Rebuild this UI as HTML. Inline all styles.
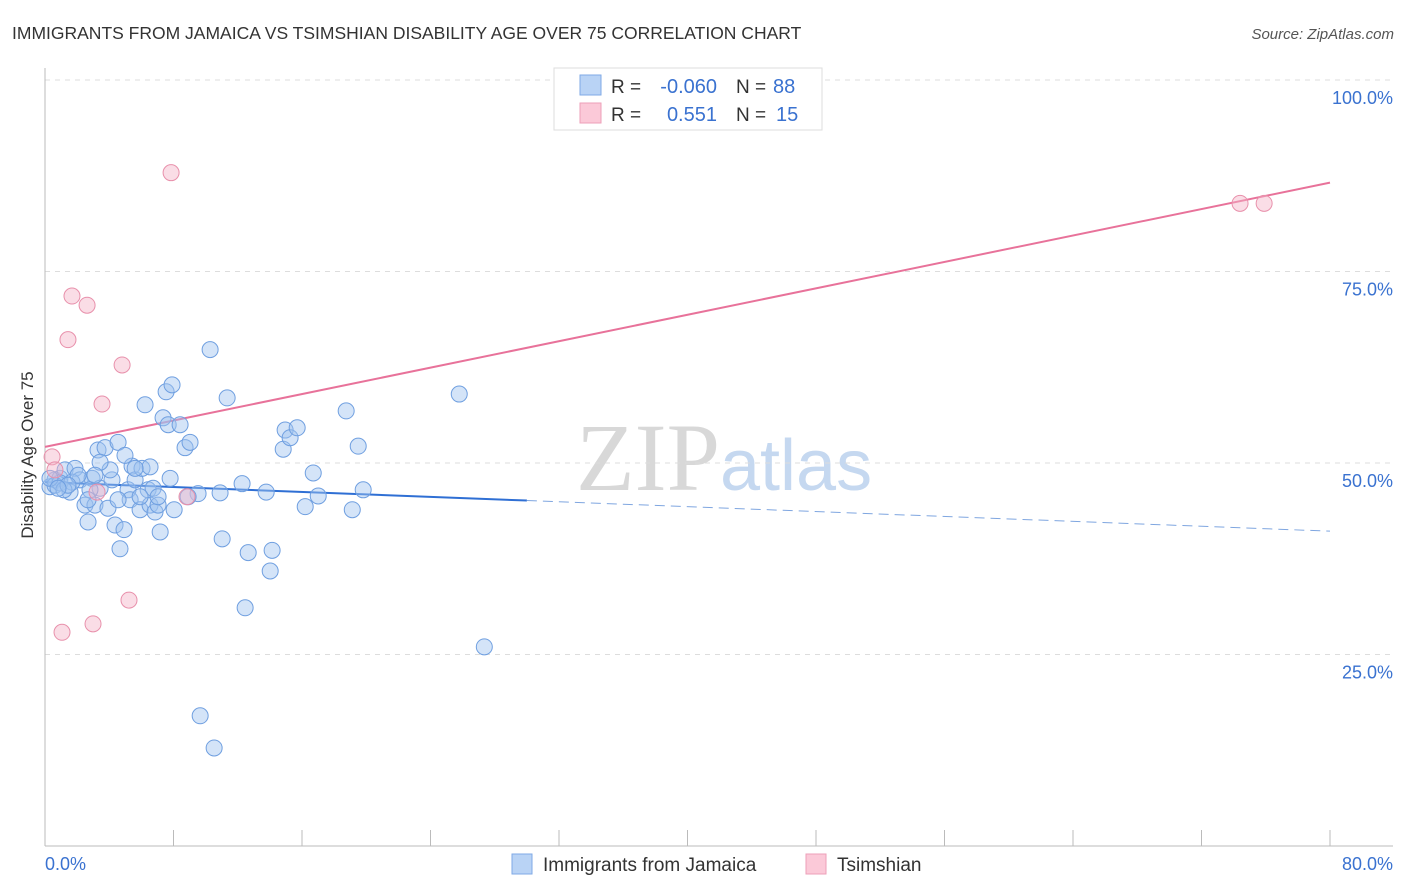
<!DOCTYPE html>
<html><head><meta charset="utf-8"><style>
body{margin:0;background:#fff;font-family:"Liberation Sans",sans-serif;}
svg{display:block}
</style></head><body>
<svg id="chart" width="1406" height="892" xmlns="http://www.w3.org/2000/svg">
<text x="12" y="39" font-size="17.5" fill="#333">IMMIGRANTS FROM JAMAICA VS TSIMSHIAN DISABILITY AGE OVER 75 CORRELATION CHART</text>
<text x="1394" y="39" font-size="15" fill="#555" font-style="italic" text-anchor="end">Source: ZipAtlas.com</text>
<text x="720" y="490" font-size="96" fill="#d8d8d8" text-anchor="end" font-family="Liberation Serif">ZIP</text>
<text x="720" y="490" font-size="72" fill="#c5d8f0">atlas</text>
<g id="grid"></g><g id="axes"></g><g id="trends"></g><g id="points"></g>
<text transform="translate(33,455) rotate(-90)" font-size="17" fill="#333" text-anchor="middle">Disability Age Over 75</text>
<g>
<rect x="554" y="68" width="268" height="62" fill="#fff" stroke="#ddd"/>
<rect x="580" y="75" width="21" height="20" fill="#b9d3f5" stroke="#7fa9e6"/>
<rect x="580" y="103" width="21" height="20" fill="#fbc9d8" stroke="#ee9fb8"/>
<text x="611" y="93" font-size="19" fill="#333">R = </text><text x="717" y="93" font-size="20" fill="#3a72d0" text-anchor="end">-0.060</text>
<text x="736" y="93" font-size="19" fill="#333">N = </text><text x="773" y="93" font-size="20" fill="#3a72d0">88</text>
<text x="611" y="121" font-size="19" fill="#333">R = </text><text x="717" y="121" font-size="20" fill="#3a72d0" text-anchor="end">0.551</text>
<text x="736" y="121" font-size="19" fill="#333">N = </text><text x="776" y="121" font-size="20" fill="#3a72d0">15</text>
</g>
<g>
<rect x="512" y="854" width="20" height="20" fill="#b9d3f5" stroke="#7fa9e6"/>
<text x="543" y="871" font-size="19" fill="#333">Immigrants from Jamaica</text>
<rect x="806" y="854" width="20" height="20" fill="#fbc9d8" stroke="#ee9fb8"/>
<text x="837" y="871" font-size="19" fill="#333">Tsimshian</text>
</g>
</svg>
<script>
const yTicks=[25,50,75,100];
const yTickLabels=["25.0%","50.0%","75.0%","100.0%"];
const xTicks=[0,8,16,24,32,40,48,56,64,72,80];
const blueX=[0.31,0.62,0.93,1.25,1.56,1.87,2.18,2.49,2.68,2.93,3.11,3.30,3.43,3.74,3.92,4.17,4.36,4.55,4.67,4.92,5.17,5.30,5.42,5.61,5.92,6.04,6.23,6.42,6.54,6.73,6.85,7.04,7.17,7.35,7.54,7.67,7.79,7.91,8.04,8.41,8.72,9.03,9.53,10.28,10.90,11.03,11.34,12.27,12.65,12.46,13.77,14.02,14.14,14.83,14.95,15.26,15.70,16.20,16.70,17.01,18.75,19.13,19.50,19.81,25.79,27.35,9.66,10.53,0.62,0.93,1.68,4.05,4.98,5.92,7.04,8.91,2.80,2.06,0.31,1.18,3.43,6.54,4.55,5.61,2.68,1.43,0.81,3.11];
const blueY=[46.9,47.8,48.0,49.1,46.2,49.3,47.8,44.5,42.3,48.0,44.5,51.7,46.7,52.0,44.1,47.8,41.9,52.7,38.8,41.3,46.5,45.2,49.6,47.8,43.9,49.3,57.6,46.5,44.5,46.7,43.6,44.5,41.0,55.9,59.3,55.0,48.0,60.2,43.9,55.0,52.0,52.7,46.0,64.8,46.1,40.1,58.5,47.3,38.3,31.1,46.2,35.9,38.6,51.8,54.3,53.3,54.6,44.3,48.7,45.7,56.8,43.9,52.2,46.5,59.0,26.0,17.0,12.8,47.1,47.4,47.5,49.1,51.0,45.6,45.6,45.6,46.5,48.4,48.0,46.5,50.1,49.5,45.2,49.3,45.2,47.1,46.7,48.4];
const pinkX=[0.44,0.62,1.06,1.43,1.68,2.62,2.99,3.24,3.55,4.80,5.23,7.85,8.84,74.4,75.9];
const pinkY=[50.8,49.1,27.9,66.1,71.8,70.6,29.0,46.2,57.7,62.8,32.1,87.9,45.6,83.9,83.9];
const blueTrend=[47.5,41.1]; // y at x=0 and x=80
const blueSolidEnd=30;
const pinkTrend=[52.1,86.6];
const NS="http://www.w3.org/2000/svg";
const X=v=>45+v/80*1285, Y=v=>846-v/100*766;
function mk(t,a,p){const e=document.createElementNS(NS,t);for(const k in a)e.setAttribute(k,a[k]);document.getElementById(p).appendChild(e);return e;}
yTicks.forEach((t,i)=>{
 const g=mk('line',{x1:45,x2:1393,y1:Y(t),y2:Y(t),stroke:'#ddd','stroke-dasharray':'5,5'},'grid');
 
 
 const l=mk('text',{x:1393,y:Y(t)+24,'font-size':18,fill:'#3a72d0','text-anchor':'end'},'grid');l.textContent=yTickLabels[i];
 
 
});
const tl=mk('line',{x1:45,x2:1393,y1:80,y2:80,stroke:'#ddd','stroke-dasharray':'5,5'},'grid');
mk('line',{x1:45,x2:45,y1:68,y2:846,stroke:'#bbb'},'axes');
mk('line',{x1:45,x2:1393,y1:846,y2:846,stroke:'#bbb'},'axes');
xTicks.forEach(t=>{const e=mk('line',{x1:X(t),x2:X(t),y1:830,y2:846,stroke:'#bbb'},'axes');
 
 });
let a=mk('text',{x:45,y:870,'font-size':18,fill:'#3a72d0'},'axes');a.textContent='0.0%';


a=mk('text',{x:1393,y:870,'font-size':18,fill:'#3a72d0','text-anchor':'end'},'axes');a.textContent='80.0%';


const by=x=>blueTrend[0]+(blueTrend[1]-blueTrend[0])*x/80;
blueX.forEach((x,i)=>{const c=mk('circle',{cx:X(x),cy:Y(blueY[i]),r:8,fill:'rgba(160,195,240,0.45)',stroke:'#6f9fe0','stroke-width':1},'points');
 
 });
pinkX.forEach((x,i)=>{const c=mk('circle',{cx:X(x),cy:Y(pinkY[i]),r:8,fill:'rgba(245,180,200,0.45)',stroke:'#e890ab','stroke-width':1},'points');
 
 });
let l=mk('line',{x1:X(0),y1:Y(by(0)),x2:X(blueSolidEnd),y2:Y(by(blueSolidEnd)),stroke:'#2f6fd4','stroke-width':2},'trends');


l=mk('line',{x1:X(blueSolidEnd),y1:Y(by(blueSolidEnd)),x2:X(80),y2:Y(by(80)),stroke:'#7fa6e0','stroke-width':1,'stroke-dasharray':'10,6'},'trends');


l=mk('line',{x1:X(0),y1:Y(pinkTrend[0]),x2:X(80),y2:Y(pinkTrend[1]),stroke:'#e8729a','stroke-width':2},'trends');


</script>
</body></html>
